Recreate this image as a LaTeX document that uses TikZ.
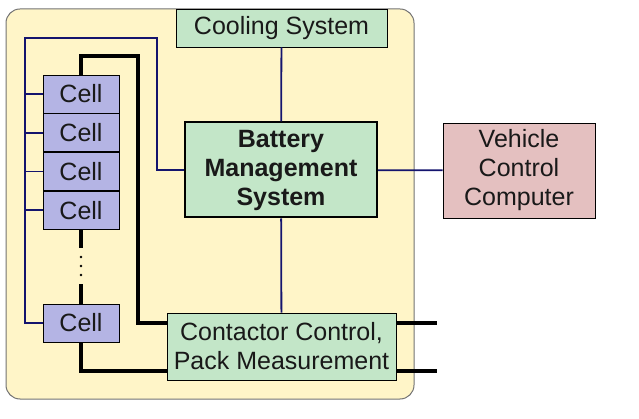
\documentclass[tikz,border=0pt]{standalone}
\usepackage{fontspec}
\setmainfont{Liberation Sans}
\usepackage{tikz}
\usetikzlibrary{positioning}
\definecolor{packfill}{RGB}{255,245,200}
\definecolor{boxgreen}{RGB}{195,230,200}
\definecolor{cellblue}{RGB}{180,180,228}
\definecolor{vccpink}{RGB}{228,192,192}
\definecolor{wirenavy}{RGB}{20,20,110}
\begin{document}
\begin{tikzpicture}[x=1pt, y=-1pt, thick,
    box/.style={draw, inner sep=0pt, align=center, text=black!90, font=\fontsize{25}{29}\selectfont},
    sys/.style={box, fill=boxgreen},
    cell/.style={box, fill=cellblue, minimum width=76pt, minimum height=38pt},
    wire/.style={draw=wirenavy, line width=1.8pt},
    bus/.style={draw=black, line width=4pt}]
  \fill[white] (0,0) rectangle (639,419);
  \useasboundingbox (0,0) rectangle (639,419);
  % battery pack
  \filldraw[fill=packfill, draw=black!55, line width=1pt, rounded corners=14pt] (6,9) rectangle (414,399);

  \node[sys, minimum width=211pt, minimum height=38pt] (cool) at (281.5,28) {Cooling System};
  \node[sys, line width=2pt, minimum width=192pt, minimum height=95pt] (bms) at (281,170) {\textbf{Battery}\\\textbf{Management}\\\textbf{System}};
  \node[box, fill=vccpink, minimum width=152pt, minimum height=95pt] (vcc) at (519,170.5) {Vehicle\\Control\\Computer};
  \node[sys, minimum width=229pt, minimum height=67pt] (cont) at (281.5,346.5) {Contactor Control,\\Pack Measurement};

  \node[cell] (c1) at (81,94) {Cell};
  \node[cell] (c2) [below=0pt of c1] {Cell};
  \node[cell] (c3) [below=0pt of c2] {Cell};
  \node[cell] (c4) [below=0pt of c3] {Cell};
  \node[cell] (cn) at (81,323) {Cell};

  \coordinate (bt) at (25,38);
  \coordinate (t1) at (138,56);
  \coordinate (out1) at (437,323);
  \coordinate (out2) at (437,371);

  % sense wires
  \draw[wire] (bms.west) -- ++(-27,0) |- (bt) |- (cn.west);
  \draw[wire] (c1.west) -- (c1.west -| bt);
  \draw[wire] (c2.west) -- (c2.west -| bt);
  \draw[wire] (c3.west) -- (c3.west -| bt);
  \draw[wire] (c4.west) -- (c4.west -| bt);
  \draw[wire] (cool) -- (bms);
  \draw[wire] (bms) -- (cont);
  \draw[wire] (bms) -- (vcc);

  % power path
  \draw[bus] (c1.north) |- (t1) |- (cn -| cont.west);
  \draw[bus] (cn.south) |- (out2 -| cont.west);
  \draw[bus] (c4.south) -- ++(0,18);
  \draw[bus] (cn.north) -- ++(0,-20);
  \fill (81,257) circle (1.3pt) (81,266) circle (1.3pt) (81,275) circle (1.3pt);
  \draw[bus] (out1 -| cont.east) -- (out1);
  \draw[bus] (out2 -| cont.east) -- (out2);
\end{tikzpicture}
\end{document}
